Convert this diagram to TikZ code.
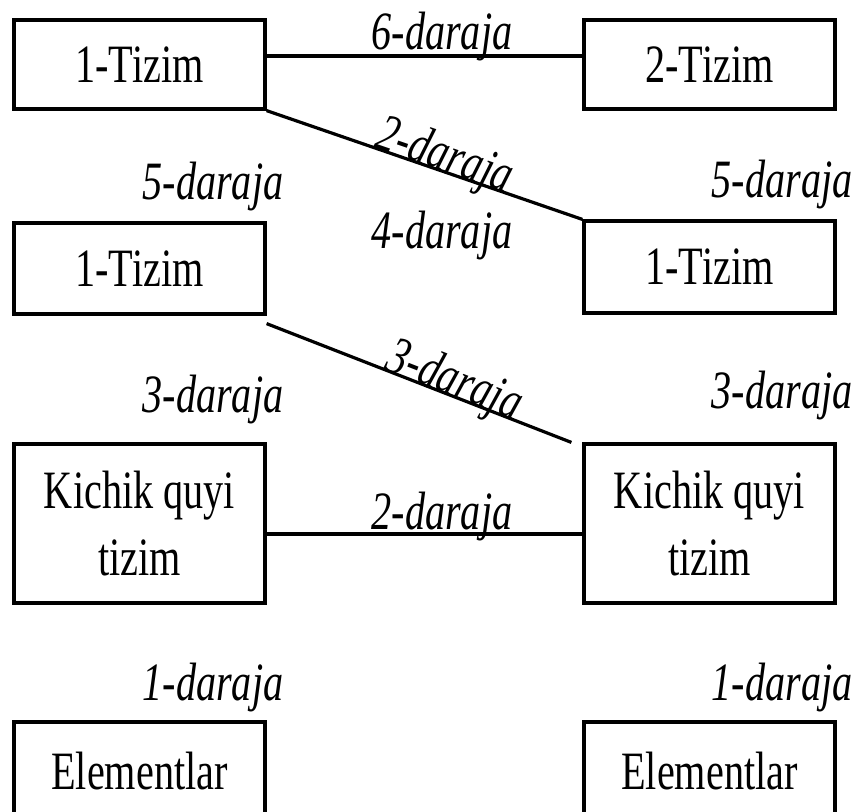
\documentclass[tikz,border=0pt]{standalone}
\usepackage{fontspec}
\newfontfamily\tallserif[FakeStretch=0.745]{Liberation Serif}
\begin{document}
\begin{tikzpicture}[x=0.5pt,y=-0.5pt,
  line width=1.6pt,
  box/.style={draw, line width=1.6pt, inner sep=0pt, minimum width=125.5pt,
    align=center, font=\tallserif\fontsize{27}{33.5}\selectfont},
  lvl/.style={inner sep=0pt, font=\tallserif\itshape\fontsize{27}{32}\selectfont},
]
\useasboundingbox (0,0) rectangle (860,811);

% left column of boxes
\node[box, minimum height=44.5pt] (b1) at (139.5,64.5) {1-Tizim};
\node[box, minimum height=45.5pt] (b3) at (139.5,268.5) {1-Tizim};
\node[box, minimum height=79.5pt] (b5) at (139.5,523.5) {Kichik quyi\\tizim};
\node[box, minimum height=49pt] (b7) at (139.5,771) {Elementlar};

% right column of boxes
\node[box, minimum height=44.5pt] (b2) at (709.5,64.5) {2-Tizim};
\node[box, minimum height=46pt] (b4) at (709.5,267) {1-Tizim};
\node[box, minimum height=79.5pt] (b6) at (709.5,523.5) {Kichik quyi\\tizim};
\node[box, minimum height=49pt] (b8) at (709.5,771) {Elementlar};

% level captions above the boxes
\node[lvl, anchor=base east] (l5a) at (285,199) {5-daraja};
\node[lvl, anchor=base east] (l5b) at (854,197) {5-daraja};
\node[lvl, anchor=base east] (l3a) at (285,412) {3-daraja};
\node[lvl, anchor=base east] (l3b) at (854,408) {3-daraja};
\node[lvl, anchor=base east] (l1a) at (285,700) {1-daraja};
\node[lvl, anchor=base east] (l1b) at (854,700) {1-daraja};
\node[lvl, anchor=base] (l4) at (442,248) {4-daraja};

% links between the two hierarchies
\draw ([yshift=4.25pt]b1.east) -- ([yshift=4.25pt]b2.west);
\node[lvl, anchor=base] (t6) at (442,49) {6-daraja};

\draw (b1.south east) -- (b4.north west)
  node[lvl, pos=0.55, sloped, anchor=base] (t2) {2-daraja};

\draw ([yshift=-4pt]b3.south east) -- ([xshift=-5.5pt]b6.north west)
  node[lvl, pos=0.6, sloped, anchor=base] (t3) {3-daraja};

\draw ([yshift=-5.25pt]b5.east) -- ([yshift=-5.25pt]b6.west);
\node[lvl, anchor=base] (t2b) at (442,529) {2-daraja};
\end{tikzpicture}
\end{document}
